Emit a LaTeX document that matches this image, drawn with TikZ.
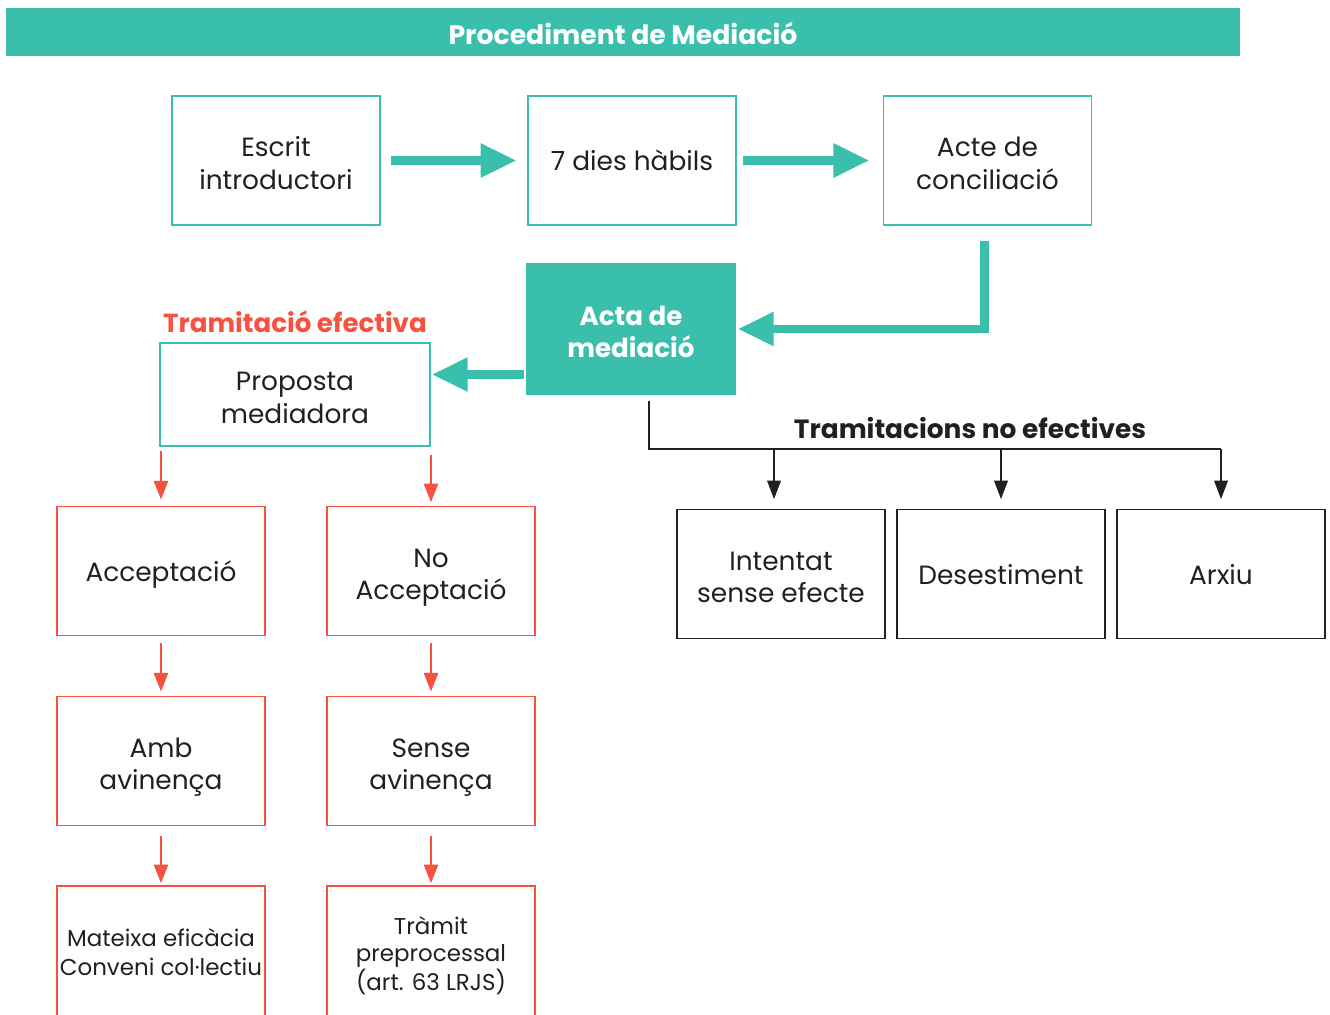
\documentclass[tikz,border=0pt]{standalone}
\usepackage{fontspec}
\setmainfont{Poppins}
\usetikzlibrary{arrows.meta,calc}
\definecolor{tealc}{HTML}{3BBFAD}
\definecolor{redc}{HTML}{F8513F}
\definecolor{inkc}{HTML}{231F20}
\tikzset{
  base/.style={rectangle, align=center, inner sep=0pt, text=inkc,
    font=\fontsize{19.8}{24.2}\selectfont, line width=1.1pt, text depth=0pt},
  ml/.style={text height=43pt},
  tbox/.style={base, draw=tealc, minimum width=156pt, minimum height=97pt},
  rbox/.style={base, draw=redc, minimum width=156pt, minimum height=97pt},
  kbox/.style={base, draw=inkc, minimum width=156pt, minimum height=97pt},
  tealarrow/.style={draw=tealc, line width=6.5pt, -{Triangle[length=27pt,width=24pt]}},
  redarrow/.style={draw=redc, line width=2pt, -{Triangle[length=14pt,width=10.5pt]}},
  blkline/.style={draw=inkc, line width=2pt},
  blkarrow/.style={draw=inkc, line width=2pt, -{Triangle[length=14pt,width=10pt]}},
}
\begin{document}
\begin{tikzpicture}[x=0.75pt,y=-0.75pt]
\useasboundingbox (0,0) rectangle (1330,1014);
\clip (0,0) rectangle (1330,1014);
% header
\node[fill=tealc, minimum width=925.5pt, minimum height=36pt, inner sep=0pt,
  text=white, font=\fontsize{20}{24}\selectfont\bfseries,
  execute at begin node={\rule{0pt}{18.5pt}}] (head) at (623,32) {Procediment de Mediació};
% top row
\node[tbox, ml] (esc) at (276,160.5) {Escrit\\introductori};
\node[tbox] (dies) at (632,160.5) {7 dies hàbils};
\node[tbox, ml] (acte) at (987.5,160.5) {Acte de\\conciliació};
\node[base, ml, fill=tealc, draw=tealc, text=white, minimum width=156pt, minimum height=97.5pt,
  font=\fontsize{19.6}{24}\selectfont\bfseries] (acta) at (631,329) {Acta de\\mediació};
\draw[tealarrow, shorten <=7.5pt, shorten >=8pt] (esc.east) -- (dies.west);
\draw[tealarrow, shorten <=5pt, shorten >=10pt] (dies.east) -- (acte.west);
\draw[tealarrow] ($(acte.south)+(-3,15)$) |- ($(acta.east)+(2,0)$);
% effective
\node[text=redc, inner sep=0pt, font=\fontsize{19.6}{24}\selectfont\bfseries] (tef) at (295,322) {Tramitació efectiva};
\node[tbox, ml, minimum width=202.5pt, minimum height=77pt] (prop) at (295,394.5) {Proposta\\mediadora};
\draw[tealarrow] ($(acta.west |- prop.east)+(-2,-20)$) -- ($(prop.east)+(1,-20)$);
\node[rbox] (acc) at (161,571) {Acceptació};
\node[rbox, ml] (nac) at (431,571) {No\\Acceptació};
\node[rbox, ml] (amb) at (161,761) {Amb\\avinença};
\node[rbox, ml] (sen) at (431,761) {Sense\\avinença};
\node[rbox, minimum height=99pt, font=\fontsize{17.2}{21.5}\selectfont] (mat) at (161,952) {Mateixa eficàcia\\Conveni col·lectiu};
\node[rbox, text height=57.5pt, minimum height=99pt, font=\fontsize{17.2}{20}\selectfont] (tra) at (431,952) {Tràmit\\preprocessal\\(art. 63 LRJS)};
\draw[redarrow, shorten <=3pt, shorten >=4.5pt] (prop.south -| acc.north) -- (acc.north);
\draw[redarrow, shorten <=6pt, shorten >=2.5pt] (prop.south -| nac.north) -- (nac.north);
\draw[redarrow, shorten <=5pt, shorten >=3pt] (acc.south) -- (amb.north);
\draw[redarrow, shorten <=5pt, shorten >=3pt] (nac.south) -- (sen.north);
\draw[redarrow, shorten <=7pt, shorten >=1.5pt] (amb.south) -- (mat.north);
\draw[redarrow, shorten <=7pt, shorten >=1.5pt] (sen.south) -- (tra.north);
% non-effective
\node[kbox, ml] (int) at (781,574) {Intentat\\sense efecte};
\node[kbox] (des) at (1001,574) {Desestiment};
\node[kbox] (arx) at (1221,574) {Arxiu};
\node[text=inkc, inner sep=0pt, font=\fontsize{19.8}{24}\selectfont\bfseries] (tnef) at (970,428) {Tramitacions no efectives};
\coordinate (busL) at (649,449);
\coordinate (busR) at (1221,449);
\coordinate (b1) at (774,449);
\coordinate (b2) at (1001,449);
\draw[blkline] ($(acta.south -| busL)+(0,6)$) -- (busL) -- (busR);
\draw[blkarrow, shorten >=7pt] (b1) -- (b1 |- int.north);
\draw[blkarrow, shorten >=7pt] (b2) -- (b2 |- des.north);
\draw[blkarrow, shorten >=7pt] (busR) -- (arx.north);
\end{tikzpicture}
\end{document}
